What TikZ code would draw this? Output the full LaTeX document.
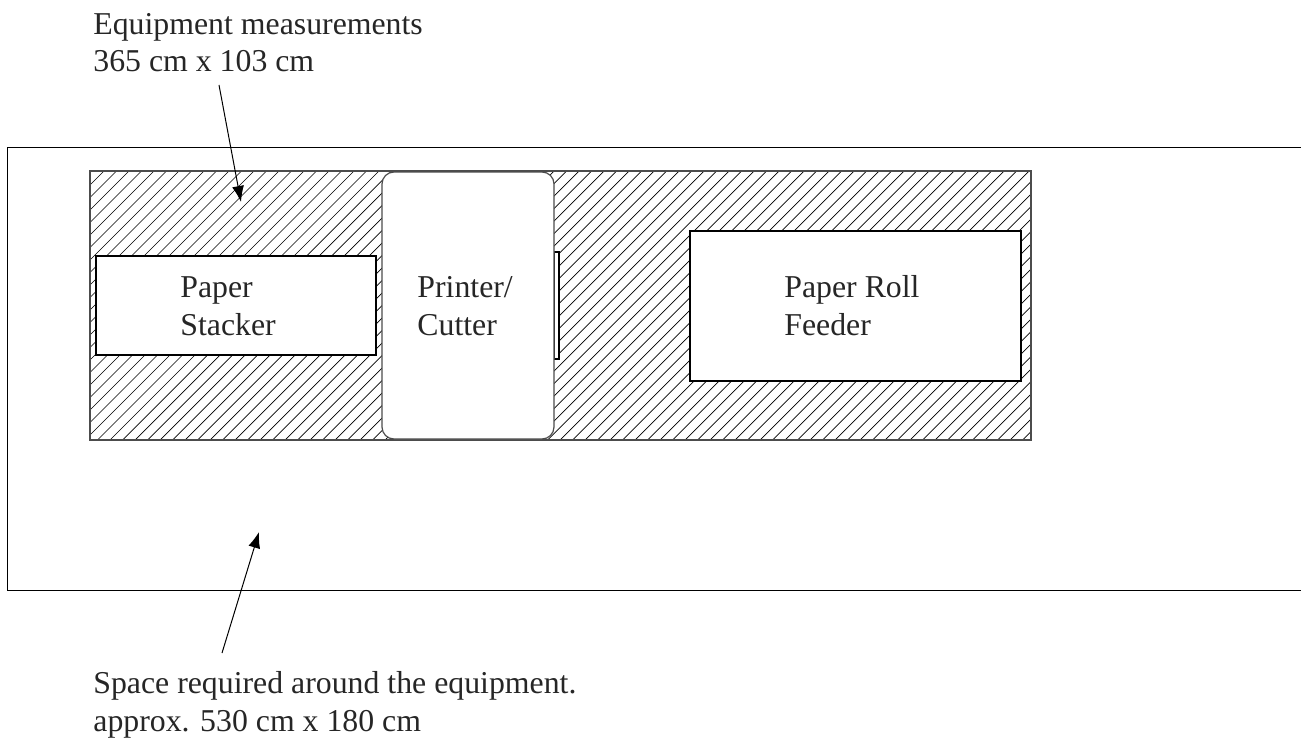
\documentclass[tikz,border=0pt]{standalone}
\usepackage{fontspec}
\setmainfont{Liberation Serif}
\usetikzlibrary{arrows.meta}

\tikzstyle{box} = [rectangle, draw=black, fill=white, line width=0.55pt, inner sep=0pt]
\tikzstyle{lbl} = [anchor=base west, align=left, inner sep=0pt, font=\fontsize{15.9}{18.8}\selectfont, text=black!85]
\tikzstyle{pointer} = [-{Latex[length=8pt,width=6pt]}, line width=0.5pt]

\begin{document}
\begin{tikzpicture}[x=0.5pt,y=-0.5pt]
    \useasboundingbox (0,0) rectangle (1301,738);

    \coordinate (FL) at (1301,148);
    \coordinate (FB) at (1301,590);
    \draw[line width=0.5pt] (FL) -- (7,148) -- (7,590) -- (FB);

    % hatched footprint of the equipment
    \begin{scope}
        \clip (90,171) rectangle (1031,440);
        \foreach \d in {-260,-247.5,...,970}
            \draw[line width=0.35pt] (\d+70,440) -- (\d+350,160);
    \end{scope}
    \node[rectangle, draw=black!70, line width=0.6pt, minimum width=470.5pt, minimum height=134.5pt] (E) at (560.5,305.5) {};

    \node[box, minimum width=140pt, minimum height=49.5pt] (S) at (236,305.5) {};
    \node[box, minimum width=2.5pt, minimum height=53.5pt] (T) at (556.5,305.5) {};
    \node[box, draw=black!70, line width=0.6pt, rounded corners=6pt, minimum width=86pt, minimum height=133.5pt] (P) at (468,305.5) {};
    \node[box, minimum width=165.5pt, minimum height=75pt] (R) at (855.5,306) {};

    \node[lbl] (SL) at (180,335) {Paper\\Stacker};
    \node[lbl] (PL) at (417,335) {Printer/\\Cutter};
    \node[lbl] (RL) at (784,335) {Paper Roll\\Feeder};

    \node[lbl] (EL) at (93,72) {Equipment measurements\\365 cm x 103 cm};
    \node[lbl] (AL) at (93,731) {Space required around the equipment.\\approx. 530 cm x 180 cm};

    \coordinate (ET) at (241,202);
    \coordinate (AT) at (259,532);
    \draw[pointer] (EL.base west) ++(126,13) -- (ET);
    \draw[pointer] (AL.base west) ++(129,-78) -- (AT);

\end{tikzpicture}
\end{document}
